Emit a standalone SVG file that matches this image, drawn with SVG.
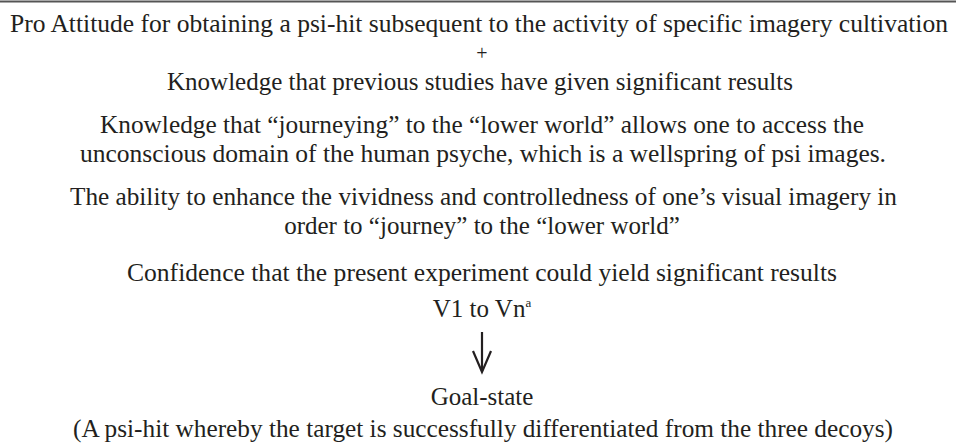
<svg xmlns="http://www.w3.org/2000/svg" width="956" height="445" viewBox="0 0 956 445">
<style>
  .t { font-family: "Liberation Serif", "Times New Roman", serif; font-size: 25px; fill: #231f20; text-anchor: middle; }
  .sup { font-size: 13px; }
  .rule { stroke: #555555; stroke-width: 2; }
  .conn { stroke: #231f20; stroke-width: 2.2; fill: none; stroke-linecap: butt; stroke-linejoin: miter; }
</style>
<rect x="0" y="0" width="956" height="445" fill="#ffffff"/>
<line class="rule" x1="0" y1="1.5" x2="956" y2="1.5"/>
<g id="pro-attitude">
  <text class="t" x="479" y="32" textLength="938" lengthAdjust="spacingAndGlyphs">Pro Attitude for obtaining a psi-hit subsequent to the activity of specific imagery cultivation</text>
  <text class="t" x="482" y="60" style="font-size:20px">+</text>
  <text class="t" x="480" y="90" textLength="626" lengthAdjust="spacingAndGlyphs">Knowledge that previous studies have given significant results</text>
</g>
<g id="knowledge-journeying">
  <text class="t" x="482" y="133" textLength="764" lengthAdjust="spacingAndGlyphs">Knowledge that “journeying” to the “lower world” allows one to access the</text>
  <text class="t" x="483" y="162" textLength="806" lengthAdjust="spacingAndGlyphs">unconscious domain of the human psyche, which is a wellspring of psi images.</text>
</g>
<g id="ability">
  <text class="t" x="483.5" y="205" textLength="827" lengthAdjust="spacingAndGlyphs">The ability to enhance the vividness and controlledness of one’s visual imagery in</text>
  <text class="t" x="482" y="234">order to “journey” to the “lower world”</text>
</g>
<g id="confidence">
  <text class="t" x="482" y="281" textLength="710" lengthAdjust="spacingAndGlyphs">Confidence that the present experiment could yield significant results</text>
</g>
<g id="v1-vn">
  <text class="t" x="482" y="317">V1 to Vn<tspan class="sup" dy="-10">a</tspan></text>
</g>
<g id="connectors">
  <line class="conn" x1="482" y1="332" x2="482" y2="371"/>
  <polyline class="conn" points="473,351 482,372 491,351"/>
</g>
<g id="goal-state">
  <text class="t" x="482" y="405">Goal-state</text>
  <text class="t" x="483" y="437" textLength="820" lengthAdjust="spacingAndGlyphs">(A psi-hit whereby the target is successfully differentiated from the three decoys)</text>
</g>
</svg>
